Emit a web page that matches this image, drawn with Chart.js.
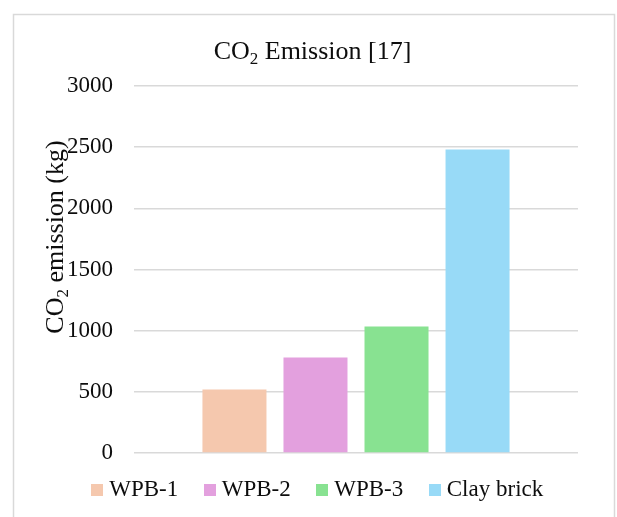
<!DOCTYPE html>
<html>
<head>
<meta charset="utf-8">
<title>CO2 Emission</title>
<script src="https://cdn.jsdelivr.net/npm/chart.js@4.4.1/dist/chart.umd.min.js"></script>
<style>
  html, body { margin: 0; padding: 0; background: #ffffff; }
  #wrap { width: 617px; height: 517px; }
</style>
</head>
<body>
<div id="wrap"><canvas id="chart" width="617" height="517"></canvas></div>
<script>
// One group of bars, one bar per wall material
const categories = [''];
const seriesNames = ['WPB-1', 'WPB-2', 'WPB-3', 'Clay brick'];
const seriesValues = [520, 780, 1035, 2480];
const seriesColors = ['#F5C8AE', '#E3A0DE', '#88E291', '#98DAF7'];
const yTicks = [0, 500, 1000, 1500, 2000, 2500, 3000];

// Titles split as [main, subscript, rest]
const chartTitle = ['CO', '2', ' Emission [17]'];
const axisTitle = ['CO', '2', ' emission (kg)'];

const SERIF = '"Liberation Serif", "Times New Roman", serif';
const TEXT = '#0d0d0d';
const GRID = '#d9d9d9';

// Small square swatches used as legend markers
function swatch(color) {
  const c = document.createElement('canvas');
  c.width = 12; c.height = 12;
  const g = c.getContext('2d');
  g.fillStyle = color;
  g.fillRect(0, 0, 12, 12);
  return c;
}
const swatches = seriesColors.map(swatch);

// Draws a title with a subscript, centred on (0,0) in the current transform, baseline at y=0
function drawSubscripted(ctx, parts, size, subSize, drop) {
  const main = size + 'px ' + SERIF;
  const sub = subSize + 'px ' + SERIF;
  ctx.font = main; const w0 = ctx.measureText(parts[0]).width;
  ctx.font = sub;  const w1 = ctx.measureText(parts[1]).width;
  ctx.font = main; const w2 = ctx.measureText(parts[2]).width;
  let x = -(w0 + w1 + w2) / 2;
  ctx.textAlign = 'left';
  ctx.textBaseline = 'alphabetic';
  ctx.fillStyle = TEXT;
  ctx.font = main; ctx.fillText(parts[0], x, 0); x += w0;
  ctx.font = sub;  ctx.fillText(parts[1], x, drop); x += w1;
  ctx.font = main; ctx.fillText(parts[2], x, 0);
}

const decorPlugin = {
  id: 'decor',
  afterLayout(chart) {
    // pull the legend row up towards the plot
    const lg = chart.legend;
    if (lg) { lg.top -= 6; lg.bottom -= 6; }
  },
  beforeDraw(chart) {
    const ctx = chart.ctx;
    ctx.save();
    ctx.fillStyle = '#ffffff';
    ctx.fillRect(0, 0, chart.width, chart.height);
    ctx.strokeStyle = GRID;
    ctx.lineWidth = 1.5;
    ctx.strokeRect(13.5, 14.5, 601, 600);
    ctx.restore();
  },
  afterDraw(chart) {
    const ctx = chart.ctx;
    ctx.save();
    ctx.translate(312.5, 59);
    drawSubscripted(ctx, chartTitle, 26, 17, 5);
    ctx.restore();

    ctx.save();
    ctx.translate(63, 237);
    ctx.rotate(-Math.PI / 2);
    drawSubscripted(ctx, axisTitle, 26, 17, 5);
    ctx.restore();
  }
};

new Chart(document.getElementById('chart'), {
  type: 'bar',
  data: {
    labels: categories,
    datasets: seriesNames.map((name, i) => ({
      label: name,
      data: [seriesValues[i]],
      backgroundColor: seriesColors[i],
      borderWidth: 0,
      categoryPercentage: 0.73,
      barPercentage: 0.79
    }))
  },
  options: {
    responsive: false,
    animation: false,
    devicePixelRatio: 1,
    layout: { padding: { top: 86, left: 62, right: 39, bottom: 0 } },
    scales: {
      x: { display: false },
      y: {
        min: yTicks[0],
        max: yTicks[yTicks.length - 1],
        afterBuildTicks(scale) { scale.ticks = yTicks.map(v => ({ value: v })); },
        afterFit(scale) { scale.width = 72; },
        border: { display: false },
        grid: { color: GRID, lineWidth: 1.5, drawTicks: false },
        ticks: {
          padding: 21,
          color: TEXT,
          font: { family: SERIF, size: 23 },
          callback: (v) => String(v)
        }
      }
    },
    plugins: {
      title: { display: false },
      tooltip: { enabled: false },
      legend: {
        position: 'bottom',
        labels: {
          color: TEXT,
          font: { family: SERIF, size: 23 },
          padding: 31,
          usePointStyle: true,
          boxWidth: 1,
          boxHeight: 12,
          generateLabels(chart) {
            const items = Chart.defaults.plugins.legend.labels.generateLabels(chart);
            items.forEach((it, i) => { it.pointStyle = swatches[i]; });
            return items;
          }
        }
      }
    }
  },
  plugins: [decorPlugin]
});
</script>
</body>
</html>
